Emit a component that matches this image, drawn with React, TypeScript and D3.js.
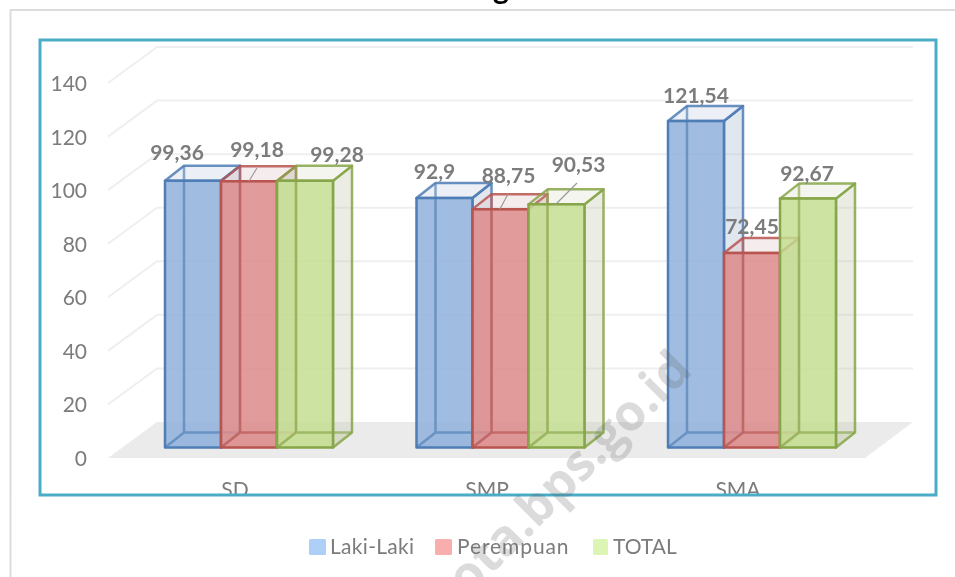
import React from "react";
import * as d3 from "d3";

const categories = ["SD", "SMP", "SMA"];
const seriesNames = ["Laki-Laki", "Perempuan", "TOTAL"];
const lakiLaki = [99.36, 92.9, 121.54];
const perempuan = [99.18, 88.75, 72.45];
const total = [99.28, 90.53, 92.67];
const tickValues = [0, 20, 40, 60, 80, 100, 120, 140];
const labelText = [
  ["99,36", "99,18", "99,28"],
  ["92,9", "88,75", "90,53"],
  ["121,54", "72,45", "92,67"],
];
const labelOffsets = [
  [[-16, -21], [8, -24], [32, -19]],
  [[-10, -19], [8, -26], [22, -32]],
  [[0, -18], [0, -19], [-1, -18]],
];

const FONT = "Lato, 'Open Sans', sans-serif";
const seriesStyle = [
  { front: "#8fb1dc", side: "#a9b9d0", top: "#b5c3da", stroke: "#4f7db5", legend: "#aed0f7" },
  { front: "#dd8a8a", side: "#b09a9a", top: "#d8b8b8", stroke: "#b85450", legend: "#f9aeae" },
  { front: "#c4de90", side: "#c6cbb2", top: "#d1d9bb", stroke: "#86a648", legend: "#dcf5b4" },
];

const y = d3.scaleLinear().domain([0, 140]).range([458, 83]);
const barY = d3.scaleLinear().domain([0, 140]).range([447.5, 71.5]);
const x = d3.scalePoint<string>().domain(categories).range([165, 668]);
const DX = 19;
const DY = -15;
const BAR_W = 56;
const BACK_DX = 49;
const BACK_DY = -36;
const FLOOR_RIGHT = 865;

export default function App() {
  const series = [lakiLaki, perempuan, total];
  const poly = (pts: number[][]) => pts.map((p) => p.join(",")).join(" ");
  return (
    <svg
      width={955}
      height={577}
      viewBox="0 0 955 577"
      style={{ position: "absolute", left: 0, top: 0, display: "block", background: "#fff" }}
    >
      <defs>
        <filter id="soft" x="-5%" y="-5%" width="110%" height="110%">
          <feGaussianBlur stdDeviation="0.6" />
        </filter>
      </defs>
      <g filter="url(#soft)">
        <path d="M955,10 H10.5 V577" fill="none" stroke="#dcdcdc" strokeWidth={2} />
        <text x={501} y={-1} fontFamily={FONT} fontWeight={700} fontSize={30} textAnchor="middle" fill="#000">g</text>

        <polygon
          points={poly([
            [108, y(0)],
            [108 + BACK_DX, y(0) + BACK_DY],
            [108 + BACK_DX + 756, y(0) + BACK_DY],
            [FLOOR_RIGHT, y(0)],
          ])}
          fill="#ebebeb"
        />
        {tickValues.filter((t) => t > 0).map((t) => (
          <path
            key={t}
            d={`M108,${y(t)} L${108 + BACK_DX},${y(t) + BACK_DY} H${108 + BACK_DX + 756}`}
            fill="none"
            stroke="#efefef"
            strokeWidth={2}
          />
        ))}
        {tickValues.map((t) => (
          <text key={t} x={87} y={y(t) + 8} textAnchor="end" fontFamily={FONT} fontSize={21} fill="#7b7b7b">{t}</text>
        ))}

        {categories.map((c, ci) =>
          series.map((vals, si) => {
            const st = seriesStyle[si];
            const x0 = (x(c) as number) + si * BAR_W;
            const x1 = x0 + BAR_W;
            const yb = barY(0);
            const yt = barY(vals[ci]);
            return (
              <g key={c + si} strokeLinejoin="round">
                <polygon points={poly([[x0 + DX, yb + DY], [x1 + DX, yb + DY], [x1, yb], [x0, yb]])} fill={st.top} fillOpacity={0.45} />
                <polygon points={poly([[x1, yt], [x1 + DX, yt + DY], [x1 + DX, yb + DY], [x1, yb]])} fill={st.side} fillOpacity={0.35} stroke={st.stroke} strokeOpacity={0.85} strokeWidth={2.5} />
                <polygon points={poly([[x0, yt], [x0 + DX, yt + DY], [x1 + DX, yt + DY], [x1, yt]])} fill={st.top} fillOpacity={0.25} stroke={st.stroke} strokeOpacity={0.85} strokeWidth={2.5} />
                <rect x={x0} y={yt} width={BAR_W} height={yb - yt} fill={st.front} fillOpacity={0.85} stroke={st.stroke} strokeWidth={2.5} />
                <path d={`M${x0 + DX},${yt + DY} V${yb + DY} H${x1 + DX} M${x0 + DX},${yb + DY} L${x0},${yb}`} fill="none" stroke={st.stroke} strokeOpacity={0.65} strokeWidth={2.5} />
              </g>
            );
          })
        )}

        <path d="M249,181 L257,168 M500,209 L508,194 M556,204 L577,183" fill="none" stroke="#9a9a9a" strokeWidth={1.2} />

        {categories.map((c, ci) =>
          series.map((vals, si) => {
            const x0 = (x(c) as number) + si * BAR_W;
            const [ox, oy] = labelOffsets[ci][si];
            return (
              <text key={c + si} x={x0 + BAR_W / 2 + ox} y={barY(vals[ci]) + oy} textAnchor="middle" fontFamily={FONT} fontWeight={700} fontSize={21} fill="#7b7b7b">
                {labelText[ci][si]}
              </text>
            );
          })
        )}

        {categories.map((c, i) => (
          <text key={c} x={[235, 487, 738][i]} y={497} textAnchor="middle" fontFamily={FONT} fontSize={21} fill="#7b7b7b">{c}</text>
        ))}
      </g>
      <rect x={0} y={495.5} width={955} height={81.5} fill="#fff" />
      <g filter="url(#soft)">
        <path d="M10.5,495 V577" stroke="#dcdcdc" strokeWidth={2} />
        <rect x={40} y={40} width={896} height={455} fill="none" stroke="#4bacc6" strokeWidth={3} />
        {seriesNames.map((n, i) => {
          const lx = [309, 435, 593][i];
          const sw = [17, 17, 15][i];
          const spacing = [0.3, 0.9, 0][i];
          const tx = [330, 457, 613][i];
          return (
            <g key={n}>
              <rect x={lx} y={539} width={sw} height={16} rx={1.5} fill={seriesStyle[i].legend} />
              <text x={tx} y={554} fontFamily={FONT} fontSize={21} letterSpacing={spacing} fill="#7b7b7b">{n}</text>
            </g>
          );
        })}
        <text
          transform="translate(468,598) rotate(-45)"
          fontFamily="'Open Sans', sans-serif"
          fontWeight={700}
          fontSize={50}
          fill="#5a5a5a"
          fillOpacity={0.22}
        >
          ota.bps.go.id
        </text>
      </g>
    </svg>
  );
}
